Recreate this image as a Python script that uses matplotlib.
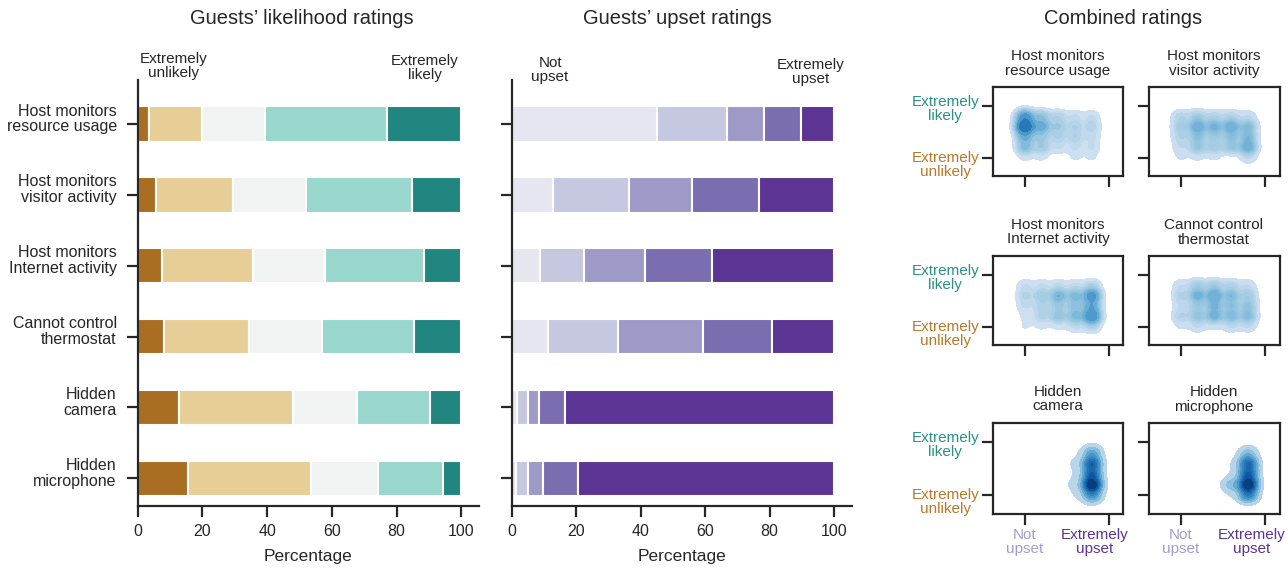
import numpy as np
import matplotlib
matplotlib.use("Agg")
import matplotlib.pyplot as plt
from matplotlib.colors import PowerNorm
from matplotlib.transforms import blended_transform_factory, ScaledTranslation

plt.rcParams["font.family"] = ["Liberation Sans", "DejaVu Sans"]

# ---------------------------------------------------------------- data
scenarios = [
    "Host monitors\nresource usage",
    "Host monitors\nvisitor activity",
    "Host monitors\nInternet activity",
    "Cannot control\nthermostat",
    "Hidden\ncamera",
    "Hidden\nmicrophone",
]

# likelihood: extremely unlikely, unlikely, neutral, likely, extremely likely (%)
likelihood_pct = [
    [3.5, 16.5, 19.4, 37.8, 22.8],
    [5.6, 23.8, 22.5, 32.8, 15.3],
    [7.5, 28.1, 22.4, 30.5, 11.5],
    [8.1, 26.4, 22.5, 28.4, 14.6],
    [12.9, 35.0, 20.0, 22.6, 9.5],
    [15.7, 38.0, 20.5, 20.1, 5.7],
]

# upset: not upset ... extremely upset (%)
upset_pct = [
    [45.0, 21.7, 11.7, 11.3, 10.3],
    [12.9, 23.6, 19.3, 21.0, 23.2],
    [8.7, 13.6, 19.1, 20.7, 37.9],
    [11.4, 21.6, 26.4, 21.5, 19.1],
    [1.5, 3.5, 3.4, 8.1, 83.5],
    [1.3, 3.8, 4.5, 10.9, 79.5],
]

# joint response counts: rows = likelihood level 0..4, columns = upset level 0..4
joint_counts = [
    [[2, 2, 0, 2, 2], [12, 8, 4, 4, 4], [14, 8, 6, 6, 4], [40, 16, 8, 6, 6], [22, 10, 6, 4, 4]],
    [[2, 2, 2, 0, 4], [4, 10, 8, 10, 16], [6, 10, 8, 10, 12], [8, 16, 14, 16, 12], [6, 8, 6, 6, 4]],
    [[2, 2, 2, 4, 6], [2, 6, 10, 12, 26], [4, 6, 8, 10, 16], [6, 8, 14, 12, 22], [4, 4, 4, 4, 6]],
    [[2, 4, 2, 4, 4], [6, 10, 14, 12, 12], [4, 8, 12, 10, 10], [6, 14, 16, 12, 8], [4, 8, 8, 6, 4]],
    [[0, 0, 0, 2, 24], [0, 0, 1, 4, 65], [0, 0, 0, 2, 38], [0, 0, 1, 3, 41], [0, 0, 0, 1, 18]],
    [[0, 0, 0, 2, 29], [0, 0, 1, 12, 63], [0, 0, 0, 2, 39], [0, 0, 0, 2, 38], [0, 0, 0, 1, 11]],
]

likelihood_colors = ["#a96e22", "#e6ce96", "#f2f4f3", "#99d7cc", "#218580"]
upset_colors = ["#e6e6f0", "#c6c7e1", "#9e9ac8", "#7a6eb0", "#5b3494"]

ink = "#262626"

# ---------------------------------------------------------------- figure
fig = plt.figure(figsize=(12.88, 5.69), dpi=100)


def style_bar_axes(ax):
    for s in ("top", "right"):
        ax.spines[s].set_visible(False)
    for s in ("left", "bottom"):
        ax.spines[s].set_linewidth(1.6)
        ax.spines[s].set_color(ink)
    ax.tick_params(width=1.6, length=8, color=ink, labelsize=11.5, labelcolor=ink)
    ax.tick_params(axis="y", pad=7)
    ax.tick_params(axis="x", pad=5)
    ax.set_xlim(0, 105.5)
    ax.set_ylim(5.39, -0.62)
    ax.set_xticks([0, 20, 40, 60, 80, 100])
    ax.set_yticks(range(len(scenarios)))
    ax.set_xlabel("Percentage", fontsize=12.5, color=ink, labelpad=7)


def stacked(ax, table, colors):
    vals = np.array(table, dtype=float)
    lefts = np.zeros(len(vals))
    ypos = np.arange(len(vals))
    for k in range(vals.shape[1]):
        ax.barh(ypos, vals[:, k], left=lefts, height=0.5, color=colors[k],
                edgecolor="white", linewidth=1.5)
        lefts += vals[:, k]


ax_l = fig.add_axes([0.1069, 0.1107, 0.2650, 0.7487])
stacked(ax_l, likelihood_pct, likelihood_colors)
style_bar_axes(ax_l)
ax_l.set_yticklabels(scenarios, linespacing=1.05)
lift = ScaledTranslation(0, 5 / 72, fig.dpi_scale_trans)
for lab in ax_l.get_yticklabels():
    lab.set_transform(lab.get_transform() + lift)

ax_m = fig.add_axes([0.3973, 0.1107, 0.2640, 0.7487])
stacked(ax_m, upset_pct, upset_colors)
style_bar_axes(ax_m)
ax_m.set_yticklabels([])

tr_l = blended_transform_factory(ax_l.transData, ax_l.transAxes)
ax_l.text(11.2, 1.0, "Extremely\nunlikely", transform=tr_l, ha="center", va="bottom",
          fontsize=11, color=ink, linespacing=1.0)
ax_l.text(88.7, 0.995, "Extremely\nlikely", transform=tr_l, ha="center", va="bottom",
          fontsize=11, color=ink, linespacing=1.0)
tr_m = blended_transform_factory(ax_m.transData, ax_m.transAxes)
ax_m.text(11.9, 0.99, "Not\nupset", transform=tr_m, ha="center", va="bottom",
          fontsize=11, color=ink, linespacing=1.0)
ax_m.text(92.6, 0.985, "Extremely\nupset", transform=tr_m, ha="center", va="bottom",
          fontsize=11, color=ink, linespacing=1.0)

for xc, title in [(302, "Guests\u2019 likelihood ratings"), (677, "Guests\u2019 upset ratings"),
                  (1123, "Combined ratings")]:
    fig.text(xc / 1288, 1 - 19 / 569, title, ha="center", va="center",
             fontsize=14.5, color=ink)

# ---------------------------------------------------------------- joint densities
xlim = (-1.9, 5.85)
ylim = (-1.75, 6.8)
gx = np.linspace(*xlim, 320)
gy = np.linspace(*ylim, 320)
GX, GY = np.meshgrid(gx, gy)
bw_x, bw_y = 0.37, 0.46


def density(counts):
    c = np.array(counts, dtype=float)
    z = np.zeros_like(GX)
    for i in range(c.shape[0]):
        for j in range(c.shape[1]):
            if c[i, j] > 0:
                z += c[i, j] * np.exp(-0.5 * ((GX - j) / bw_x) ** 2
                                      - 0.5 * ((GY - i) / bw_y) ** 2)
    return z / (c.sum() * 2 * np.pi * bw_x * bw_y)


def quantile_to_level(data, quantiles):
    vals = np.sort(np.ravel(data))[::-1]
    cum = np.cumsum(vals) / vals.sum()
    idx = np.searchsorted(cum, 1 - np.asarray(quantiles))
    return np.take(vals, idx, mode="clip")


dens = [density(c) for c in joint_counts]
gmax = max(d.max() for d in dens)
norm = PowerNorm(gamma=0.5, vmin=0, vmax=gmax)

col_left = [993 / 1288, 1148.5 / 1288]
col_w = [130 / 1288, 131 / 1288]
row_bottom = [1 - 176 / 569, 1 - 345 / 569, 1 - 514 / 569]
row_h = [89 / 569, 89 / 569, 91 / 569]

for idx, name in enumerate(scenarios):
    r, cidx = divmod(idx, 2)
    ax = fig.add_axes([col_left[cidx], row_bottom[r], col_w[cidx], row_h[r]])
    lv = np.unique(quantile_to_level(dens[idx], np.linspace(0.05, 1, 10)))
    lv[-1] = dens[idx].max() * 1.001
    ax.contourf(GX, GY, dens[idx], levels=lv, cmap="Blues", norm=norm)
    ax.set_xlim(*xlim)
    ax.set_ylim(*ylim)
    for s in ax.spines.values():
        s.set_linewidth(1.6)
        s.set_color(ink)
    ax.tick_params(width=1.6, length=8, color=ink, labelsize=11, pad=2)
    ax.set_xticks([0, 5])
    ax.set_yticks([0, 5])
    ax.set_title(name, fontsize=11, color=ink, pad=9, linespacing=1.05)
    if r == 2:
        ax.set_xticklabels(["Not\nupset", "Extremely\nupset"], linespacing=1.0)
        xl = ax.get_xticklabels()
        xl[0].set_color("#a29dcb")
        xl[1].set_color("#5b3494")
        xl[1].set_transform(xl[1].get_transform()
                            + ScaledTranslation(-10 / 72, 0, fig.dpi_scale_trans))
    else:
        ax.set_xticklabels([])
    if cidx == 0:
        ax.set_yticklabels(["Extremely\nunlikely", "Extremely\nlikely"], linespacing=1.0,
                           multialignment="center")
        yl = ax.get_yticklabels()
        yl[0].set_color("#b8792a")
        yl[1].set_color("#2a9185")
        yl[0].set_transform(yl[0].get_transform()
                            + ScaledTranslation(0, -4 / 72, fig.dpi_scale_trans))
        yl[1].set_transform(yl[1].get_transform()
                            + ScaledTranslation(0, -1 / 72, fig.dpi_scale_trans))
    else:
        ax.set_yticklabels([])

fig.savefig("out.png", dpi=100)
